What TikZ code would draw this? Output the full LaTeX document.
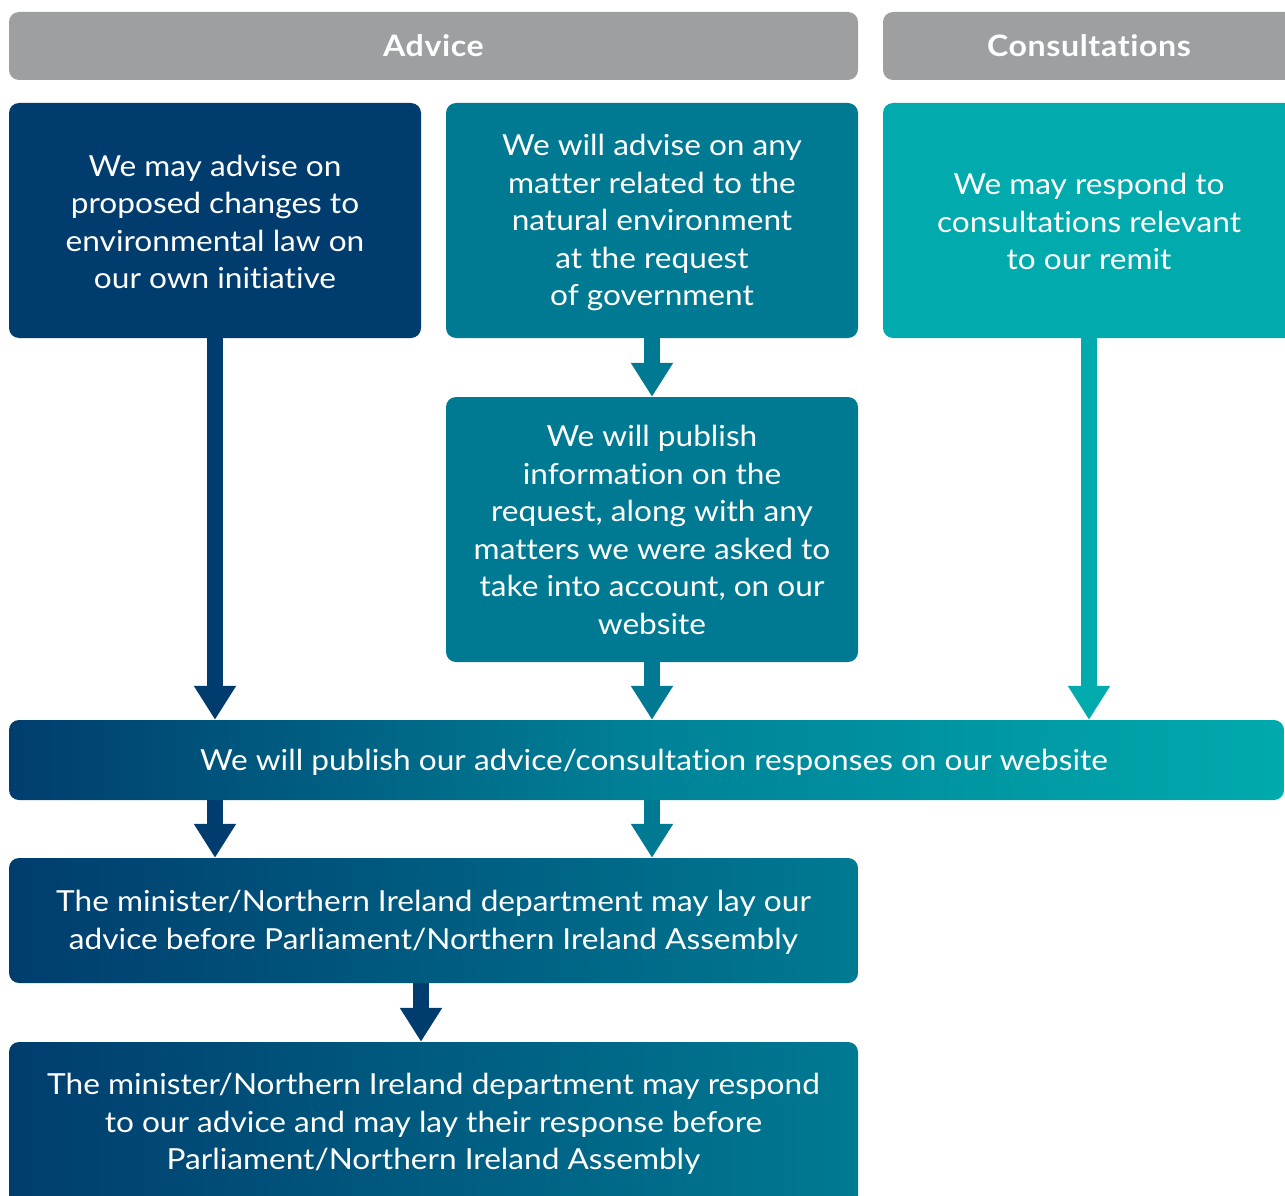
\documentclass[tikz,border=0pt]{standalone}
\usepackage{fontspec}
\setmainfont[FakeStretch=1.09,Ligatures=NoCommon]{Lato}
\usetikzlibrary{arrows.meta}
\definecolor{navy}{HTML}{003D6E}
\definecolor{teal}{HTML}{007A93}
\definecolor{bright}{HTML}{00AAAD}
\definecolor{hgray}{HTML}{9D9FA0}
\begin{document}
\begin{tikzpicture}[x=1pt,y=-1pt,
  box/.style={rounded corners=10pt, inner sep=0pt, text=white, align=center,
    font=\fontsize{29}{37.5}\selectfont},
  txt/.style={text=white, align=center, inner sep=0pt, font=\fontsize{29}{37.5}\selectfont},
  hdr/.style={fill=hgray, rounded corners=10pt, inner sep=0pt, text=white,
    font=\fontsize{29.5}{34}\selectfont\bfseries\addfontfeature{LetterSpace=2}},
  arr/.style={line width=16pt, -{Triangle[length=34pt,width=40pt]}}]
\useasboundingbox (0,0) rectangle (1285,1196);
\clip (0,0) rectangle (1285,1196);
% headers
\node[hdr, minimum width=849pt, minimum height=68pt] (hadv) at (433.5,46) {Advice};
\node[hdr, minimum width=412pt, minimum height=68pt] (hcon) at (1089,46) {Consultations};
% top boxes
\node[box, fill=navy, minimum width=412pt, minimum height=235pt] (A) at (215,220.5) {};
\node[txt] at (215,222) {We may advise on\\proposed changes to\\environmental law on\\our own initiative};
\node[box, fill=teal, minimum width=412pt, minimum height=235pt] (B) at (652,220.5) {};
\node[txt] at (652,222.5) {We will advise on any\\matter related to the\\natural environment\\at the request\\of government};
\node[box, fill=bright, minimum width=412pt, minimum height=235pt] (C) at (1089,220.5) {};
\node[txt] at (1089,221.5) {We may respond to\\consultations relevant\\to our remit};
\node[box, fill=teal, minimum width=412pt, minimum height=265pt] (D) at (652,529.5) {};
\node[txt] at (652,530) {We will publish\\information on the\\request, along with any\\matters we were asked to\\take into account, on our\\website};
% publish bar
\node[box, left color=navy, right color=bright, middle color=teal!85!bright,
  minimum width=1275pt, minimum height=80pt] (pub) at (646.5,760) {};
\node[txt] (pubt) at (654,762)
  {We will publish our advice/consultation responses on our website};
\node[box, left color=navy, right color=teal, minimum width=849pt, minimum height=125pt] (E) at (433.5,920.5) {};
\node[txt] at (433.5,922.5)
  {The minister/Northern Ireland department may lay our\\advice before Parliament/Northern Ireland Assembly};
\node[box, left color=navy, right color=teal, minimum width=849pt, minimum height=170pt] (F) at (433.5,1127) {};
\node[txt] (Ft) at (433.5,1124)
  {The minister/Northern Ireland department may respond\\to our advice and may lay their response before\\Parliament/Northern Ireland Assembly};
% arrows
\draw[arr, draw=navy, fill=navy] (A.south) -- (A.south |- pub.north);
\draw[arr, draw=teal, fill=teal] (B.south) -- (D.north);
\draw[arr, draw=teal, fill=teal] (D.south) -- (D.south |- pub.north);
\draw[arr, draw=bright, fill=bright] (C.south) -- (C.south |- pub.north);
\draw[arr, draw=navy, fill=navy] (A.south |- pub.south) -- (A.south |- E.north);
\draw[arr, draw=teal, fill=teal] (D.south |- pub.south) -- (D.south |- E.north);
\draw[arr, draw=navy, fill=navy] ([xshift=-12.5pt]E.south) -- ([xshift=-12.5pt]E.south |- F.north);
\end{tikzpicture}
\end{document}
